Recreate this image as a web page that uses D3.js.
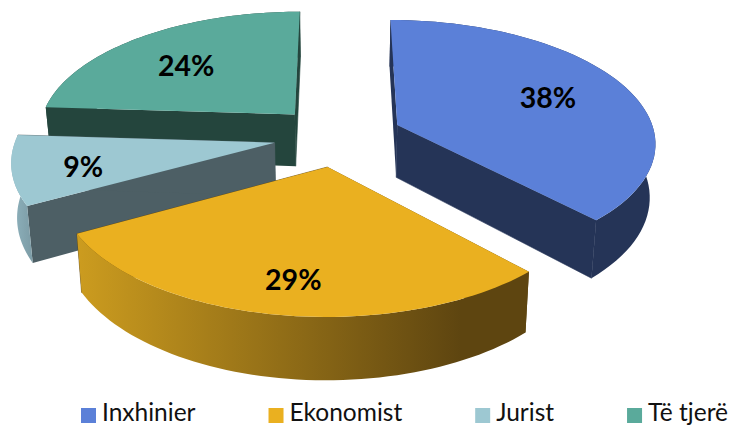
<!DOCTYPE html>
<html>
<head>
<meta charset="utf-8">
<script src="https://cdn.jsdelivr.net/npm/d3@7"></script>
<style>
  html, body { margin: 0; padding: 0; background: #fff; overflow: hidden; }
  text { font-family: Lato, "Open Sans", sans-serif; }
</style>
</head>
<body>
<div id="chart"></div>
<script>
const categories = ["Inxhinier", "Ekonomist", "Jurist", "Të tjerë"];
const values = [38, 29, 9, 24];
const topColors = ["#5b80d8", "#eab020", "#9dc8d2", "#5aaa9b"];
const wallColors = ["#253457", "#5e4510", "#4d5f65", "#24453d"];
const rimLeft = ["#253457", "#cc9c1f", "#8fb3be", "#24453d"];
const rimRight = ["#253457", "#5e4510", "#7f9fa9", "#24453d"];

const width = 735, height = 425;

// fake 3d: pie lies on a plane, u = right, v = away from viewer
const cx = 338, cy = 136;
const radiusX = 258, radiusY = 121.4;
const persp = 0.131;
const depth = 53;
const explode = 0.25;
const labelR = 0.7;
// labels were hand placed in the original, so nudge them off the centroid
const labelNudge = [[-8, 1], [-1, 13], [-9, 4], [2, 6]];

function project(u, v, down) {
  const s = 1 / (1 + persp * v);
  const shrink = down ? 0.982 : 1;
  return [
    cx + u * radiusX * s * shrink,
    cy - v * radiusY * s + (down ? depth * s : 0)
  ];
}

const svg = d3.select("#chart").append("svg")
  .attr("width", width)
  .attr("height", height);
const defs = svg.append("defs");

const arcs = d3.pie().sort(null)(values).map((d, i) => {
  const mid = (d.startAngle + d.endAngle) / 2;
  return {
    i: i,
    start: d.startAngle,
    end: d.endAngle,
    ox: explode * Math.sin(mid),
    oy: explode * Math.cos(mid),
    mid: mid
  };
});

const line = d3.line();

function rimPoints(a, down) {
  const n = 60;
  return d3.range(n + 1).map(k => {
    const t = a.start + (a.end - a.start) * k / n;
    return project(a.ox + Math.sin(t), a.oy + Math.cos(t), down);
  });
}

function wall(a, t) {
  const rimU = a.ox + Math.sin(t), rimV = a.oy + Math.cos(t);
  return [
    project(a.ox, a.oy, false),
    project(rimU, rimV, false),
    project(rimU, rimV, true),
    project(a.ox, a.oy, true)
  ];
}

// back slices first, the front one sits over the others
const order = [3, 2, 0, 1];

order.forEach(i => {
  const a = arcs[i];
  const g = svg.append("g");

  const grad = defs.append("linearGradient")
    .attr("id", "rim" + i)
    .attr("x1", 0).attr("x2", 1).attr("y1", 0).attr("y2", 0);
  grad.append("stop").attr("offset", "0%").attr("stop-color", rimLeft[i]);
  grad.append("stop").attr("offset", "85%").attr("stop-color", rimRight[i]);

  g.append("path")
    .attr("d", line(wall(a, a.start)) + "Z")
    .attr("fill", wallColors[i]);
  g.append("path")
    .attr("d", line(wall(a, a.end)) + "Z")
    .attr("fill", wallColors[i])
    .attr("stroke", wallColors[i])
    .attr("stroke-width", 0.6);

  const rim = rimPoints(a, false).concat(rimPoints(a, true).reverse());
  g.append("path")
    .attr("d", line(rim) + "Z")
    .attr("fill", "url(#rim" + i + ")");

  const top = [project(a.ox, a.oy, false)].concat(rimPoints(a, false));
  g.append("path")
    .attr("d", line(top) + "Z")
    .attr("fill", topColors[i]);
});

// Labels
svg.append("g")
  .selectAll("text")
  .data(arcs)
  .join("text")
  .attr("transform", d => {
    const p = project(d.ox + labelR * Math.sin(d.mid), d.oy + labelR * Math.cos(d.mid), false);
    return "translate(" + [p[0] + labelNudge[d.i][0], p[1] + labelNudge[d.i][1]] + ")";
  })
  .attr("text-anchor", "middle")
  .attr("dy", "0.4em")
  .attr("font-size", 28.5)
  .attr("font-weight", 700)
  .attr("fill", "#000")
  .text(d => values[d.i] + "%");

// Legend, each entry starts after the previous text
const legend = svg.append("g");
let legendX = 81;
categories.forEach((c, i) => {
  legend.append("rect")
    .attr("x", legendX).attr("y", 408)
    .attr("width", 15).attr("height", 15)
    .attr("fill", topColors[i]);
  const t = legend.append("text")
    .attr("x", legendX + 21).attr("y", 421)
    .attr("font-size", 24.5)
    .attr("fill", "#111")
    .text(c);
  legendX += 21 + t.node().getComputedTextLength() + 73;
});
</script>
</body>
</html>
